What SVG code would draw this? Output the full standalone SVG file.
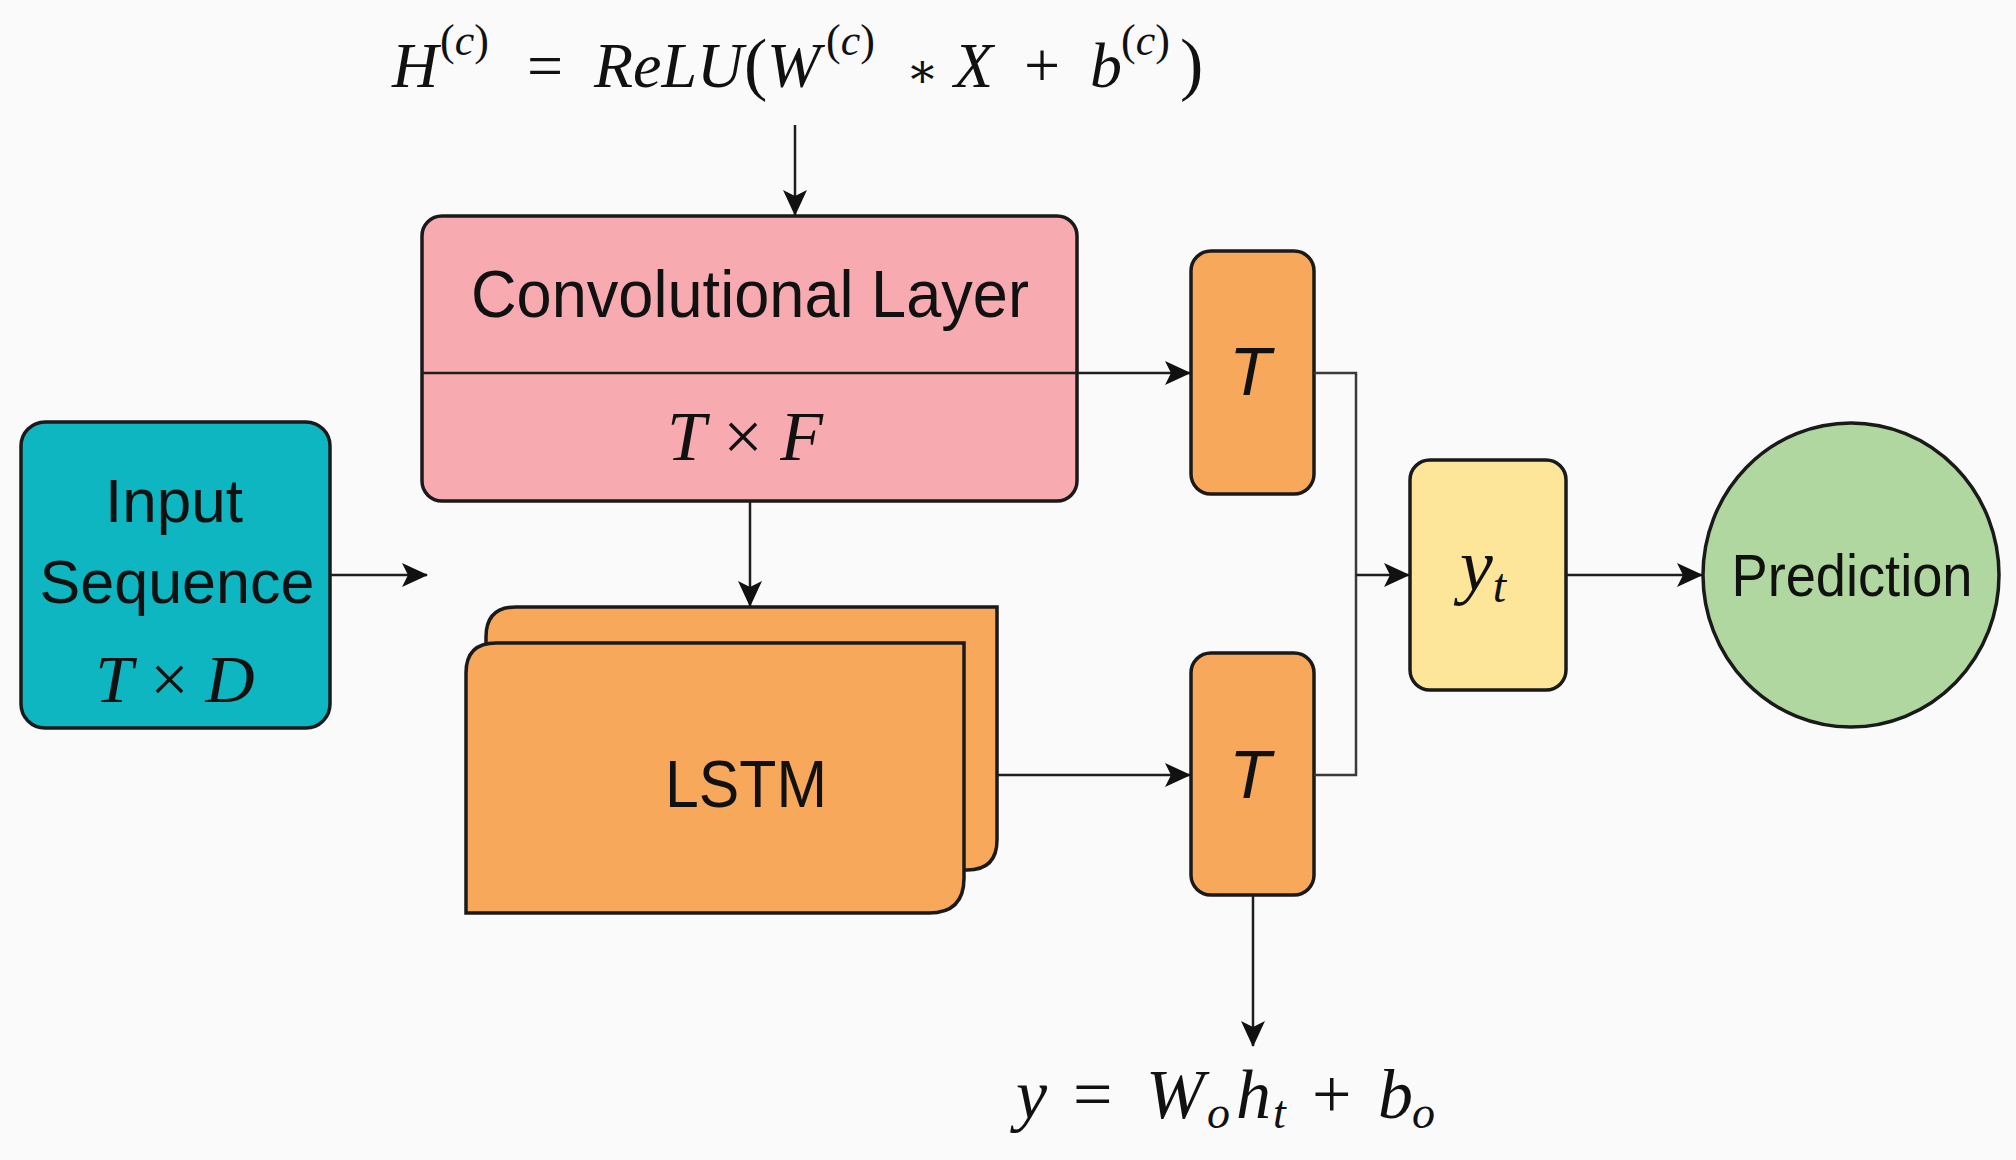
<svg xmlns="http://www.w3.org/2000/svg" width="2016" height="1160" viewBox="0 0 2016 1160">
<style>
.box{stroke:#1a1a1a;stroke-width:3.5}
.sans{font-family:"Liberation Sans",Arial,sans-serif;fill:#111}
.math{font-family:"Liberation Serif","Times New Roman",serif;fill:#111}
.it{font-style:italic}
.conn{fill:none;stroke:#1e1e1e;stroke-width:2.5}
.thin{fill:none;stroke:#3a3a3a;stroke-width:2.5}
</style>
<defs>
<marker id="arr" markerUnits="userSpaceOnUse" markerWidth="26" markerHeight="24" refX="25" refY="12" orient="auto">
<path d="M0,0 L26,12 L0,24 L6,12 z" fill="#111"/>
</marker>
</defs>
<rect width="2016" height="1160" fill="#fafafa"/>

<g id="formula-top">
<text class="math" y="87" font-size="64"><tspan class="it" x="392">H</tspan><tspan x="440" y="55" font-size="44">(<tspan class="it">c</tspan>)</tspan><tspan x="527" y="87">=</tspan><tspan class="it" x="594">ReLU</tspan><tspan x="744" font-size="70">(</tspan><tspan class="it" x="767">W</tspan><tspan x="826" y="55" font-size="44">(<tspan class="it">c</tspan>)</tspan><tspan x="906" y="87" font-family="DejaVu Serif, serif" font-size="48">∗</tspan><tspan class="it" x="954" y="87">X</tspan><tspan x="1024">+</tspan><tspan class="it" x="1090">b</tspan><tspan x="1121" y="55" font-size="44">(<tspan class="it">c</tspan>)</tspan><tspan x="1180" y="87" font-size="70">)</tspan></text>
</g>

<g id="input">
<rect class="box" x="21" y="422" width="309" height="306" rx="24" fill="#0db6c1"/>
<text class="sans" x="174" y="522" font-size="62" text-anchor="middle">Input</text>
<text class="sans" x="177" y="603" font-size="62" text-anchor="middle" textLength="275" lengthAdjust="spacingAndGlyphs">Sequence</text>
<text class="math" x="175" y="702" font-size="68" text-anchor="middle"><tspan class="it">T</tspan> × <tspan class="it">D</tspan></text>
</g>

<g id="conv">
<rect class="box" x="422" y="216" width="655" height="285" rx="20" fill="#f7abb0"/>
<text class="sans" x="750" y="317" font-size="66" text-anchor="middle" textLength="558" lengthAdjust="spacingAndGlyphs">Convolutional Layer</text>
<text class="math" x="745" y="460" font-size="70" text-anchor="middle"><tspan class="it">T</tspan> × <tspan class="it">F</tspan></text>
</g>

<g id="lstm">
<path class="box" fill="#f8a85a" d="M486,637 Q486,607 516,607 L997,607 L997,840 Q997,870 967,870 L486,870 Z"/>
<path class="box" fill="#f8a85a" d="M466,673 Q466,643 496,643 L964,643 L964,878 Q964,913 929,913 L466,913 Z"/>
<text class="sans" x="746" y="807" font-size="66" text-anchor="middle" textLength="162" lengthAdjust="spacingAndGlyphs">LSTM</text>
</g>

<g id="t1">
<rect class="box" x="1191" y="251" width="123" height="243" rx="20" fill="#f8a85a"/>
<text class="sans it" x="1250" y="395" font-size="68" text-anchor="middle">T</text>
</g>

<g id="t2">
<rect class="box" x="1191" y="653" width="123" height="242" rx="20" fill="#f8a85a"/>
<text class="sans it" x="1250" y="798" font-size="68" text-anchor="middle">T</text>
</g>

<g id="yt">
<rect class="box" x="1410" y="460" width="156" height="230" rx="20" fill="#fde699"/>
<text class="math" x="1460" y="590" font-size="74"><tspan class="it">y</tspan><tspan class="it" font-size="48" y="602">t</tspan></text>
</g>

<g id="prediction">
<ellipse class="box" cx="1851" cy="575" rx="148" ry="152" fill="#b0d79f"/>
<text class="sans" x="1852" y="596" font-size="59" text-anchor="middle" textLength="241" lengthAdjust="spacingAndGlyphs">Prediction</text>
</g>

<g id="formula-bottom">
<text class="math" y="1118" font-size="70"><tspan class="it" x="1016">y</tspan><tspan x="1073">=</tspan><tspan class="it" x="1146">W</tspan><tspan class="it" x="1207" y="1128" font-size="46">o</tspan><tspan class="it" x="1236" y="1118">h</tspan><tspan class="it" x="1273" y="1128" font-size="46">t</tspan><tspan x="1312" y="1118">+</tspan><tspan class="it" x="1378">b</tspan><tspan class="it" x="1412" y="1128" font-size="46">o</tspan></text>
</g>

<g id="connectors">
<line class="conn" x1="795" y1="125" x2="795" y2="215" marker-end="url(#arr)"/>
<line class="conn" x1="330" y1="575" x2="427" y2="575" marker-end="url(#arr)"/>
<line class="conn" x1="422" y1="373" x2="1190" y2="373" marker-end="url(#arr)"/>
<line class="conn" x1="750" y1="501" x2="750" y2="606" marker-end="url(#arr)"/>
<line class="conn" x1="997" y1="775" x2="1190" y2="775" marker-end="url(#arr)"/>
<polyline class="thin" points="1314,373 1356,373 1356,775 1314,775"/>
<line class="conn" x1="1356" y1="575" x2="1409" y2="575" marker-end="url(#arr)"/>
<line class="conn" x1="1566" y1="575" x2="1702" y2="575" marker-end="url(#arr)"/>
<line class="conn" x1="1253" y1="895" x2="1253" y2="1046" marker-end="url(#arr)"/>
</g>
</svg>
